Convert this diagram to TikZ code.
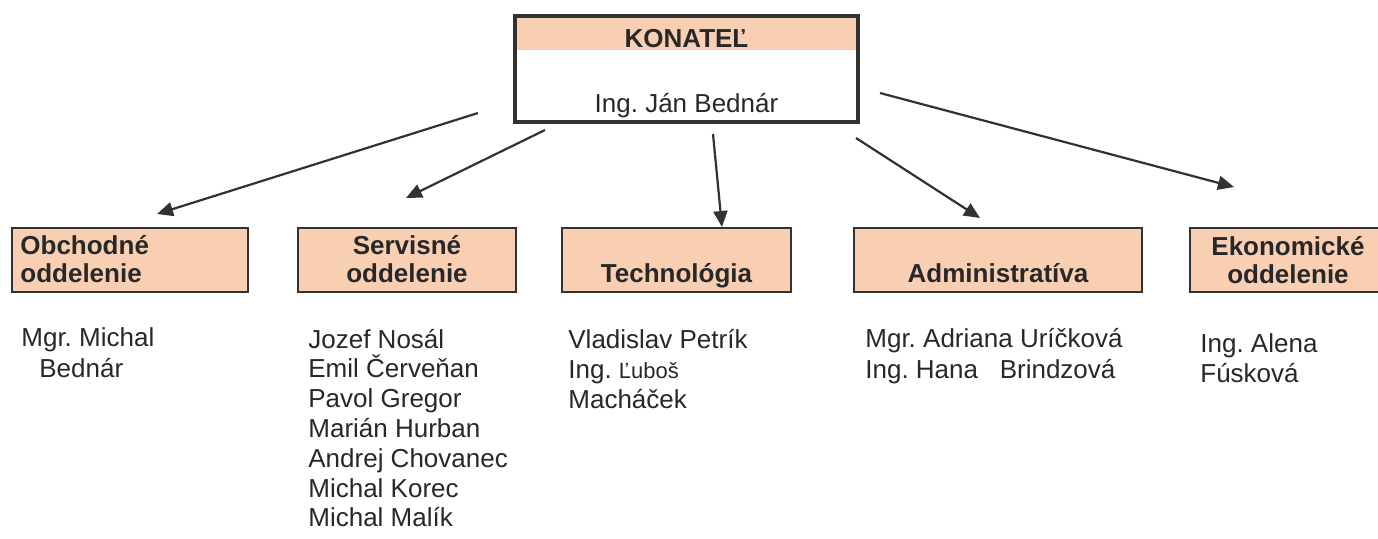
\documentclass[tikz,border=0pt]{standalone}
\usepackage{fontspec}
\setmainfont{Liberation Sans}
\usetikzlibrary{arrows.meta}
\definecolor{peach}{RGB}{249,207,180}
\definecolor{ink}{RGB}{40,40,40}
\definecolor{edge}{RGB}{50,50,50}
\frenchspacing
\begin{document}
\begin{tikzpicture}[x=0.5pt,y=-0.5pt,
  box/.style={draw=edge,line width=1.4pt,fill=peach,inner sep=0pt},
  lbl/.style={font=\fontsize{13}{15}\selectfont\bfseries,text=ink,inner sep=0pt},
  nm/.style={font=\fontsize{13}{15}\selectfont,text=ink,inner sep=0pt,anchor=base west},
  arr/.style={draw=edge,line width=1.1pt,-{Triangle[length=8pt,width=7pt]}}]
\clip (0,0) rectangle (1378,538);
\fill[white] (0,0) rectangle (1378,538);

% top box
\node[draw=edge,line width=1.3pt,fill=white,minimum width=170.5pt,minimum height=52pt,inner sep=0pt] (kon) at (686.5,69) {};
\fill[peach] ([xshift=1pt,yshift=-1pt]kon.north west) rectangle ([xshift=-1pt,yshift=-17pt]kon.north east);
\draw[edge,line width=1.3pt] (kon.north west) rectangle (kon.south east);
\node[lbl,anchor=base] (kont) at (686.5,47) {KONATEĽ};
\node[nm,anchor=base] (kons) at (686.5,112) {Ing. Ján Bednár};

% department boxes
\node[box,minimum width=118pt,minimum height=32pt] (obch) at (130,260) {};
\node[lbl,anchor=base west] (obch1) at (20,254) {Obchodné};
\node[lbl,anchor=base west] (obch2) at (20,282) {oddelenie};

\node[box,minimum width=109pt,minimum height=32pt] (serv) at (407,260) {};
\node[lbl,anchor=base] (serv1) at (407,254) {Servisné};
\node[lbl,anchor=base] (serv2) at (407,282) {oddelenie};

\node[box,minimum width=114.5pt,minimum height=32pt] (tech) at (676.5,260) {};
\node[lbl,anchor=base] (tech1) at (676.5,282) {Technológia};

\node[box,minimum width=144pt,minimum height=32pt] (adm) at (998,260) {};
\node[lbl,anchor=base] (adm1) at (998,282) {Administratíva};

\node[box,minimum width=98pt,minimum height=32pt] (eko) at (1288,260) {};
\node[lbl,anchor=base] (eko1) at (1288,255) {Ekonomické};
\node[lbl,anchor=base] (eko2) at (1288,283) {oddelenie};

% names
\node[nm] (o1) at (21,346) {Mgr. Michal};
\node[nm] (o2) at (39,377) {Bednár};

\foreach \t [count=\i] in {Jozef Nosál,Emil Červeňan,Pavol Gregor,Marián Hurban,Andrej Chovanec,Michal Korec,Michal Malík}
  \node[nm] (s\i) at (308,{348+29.8*(\i-1)}) {\t};

\node[nm] (t1) at (568,348) {Vladislav Petrík};
\node[nm] (t2) at (568,378) {Ing. {\fontsize{11}{13}\selectfont Ľuboš}};
\node[nm] (t3) at (568,408) {Macháček};

\node[nm] (a1) at (865,347) {Mgr. Adriana Uríčková};
\node[nm] (a2) at (865,378) {Ing. Hana\ \ \ Brindzová};

\node[nm] (e1) at (1200,352) {Ing. Alena};
\node[nm] (e2) at (1200,382) {Fúsková};

% arrows
\coordinate (r1s) at (478,113); \coordinate (r1e) at (157,214);
\coordinate (r2s) at (545,130); \coordinate (r2e) at (406,198);
\coordinate (r3s) at (713,134); \coordinate (r3e) at (722,227);
\coordinate (r4s) at (856,138); \coordinate (r4e) at (980,218);
\coordinate (r5s) at (880,93);  \coordinate (r5e) at (1234,187);
\draw[arr] (r1s) -- (r1e);
\draw[arr] (r2s) -- (r2e);
\draw[arr] (r3s) -- (r3e);
\draw[arr] (r4s) -- (r4e);
\draw[arr] (r5s) -- (r5e);
\end{tikzpicture}
\end{document}
